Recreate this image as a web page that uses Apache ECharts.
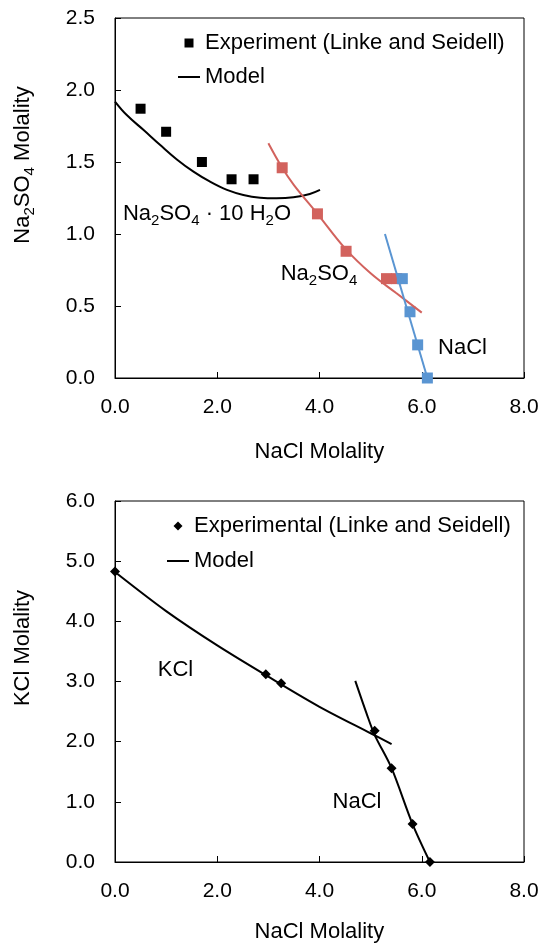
<!DOCTYPE html>
<html>
<head>
<meta charset="utf-8">
<script src="https://cdn.jsdelivr.net/npm/echarts@6/dist/echarts.min.js"></script>
<style>
html,body{margin:0;padding:0;background:#fff;}
#c{width:543px;height:949px;}
</style>
</head>
<body>
<div id="c"></div>
<script>
// ---------- Data (top chart: Na2SO4 vs NaCl) ----------
const xTicks = [0, 2, 4, 6, 8];
const topYTicks = [0, 0.5, 1.0, 1.5, 2.0, 2.5];
const botYTicks = [0, 1, 2, 3, 4, 5, 6];

const hydrateExpX = [0.5, 1.0, 1.70, 2.28, 2.71];
const hydrateExpY = [1.87, 1.71, 1.50, 1.38, 1.38];
const hydrateModelX = [0.0, 0.23, 0.56, 0.885, 1.21, 1.535, 1.86, 2.19, 2.51, 2.84, 3.16, 3.49, 3.81, 4.01];
const hydrateModelY = [1.92, 1.826, 1.722, 1.618, 1.518, 1.433, 1.363, 1.306, 1.271, 1.252, 1.248, 1.255, 1.278, 1.306];

const sulfateExpX = [3.27, 3.96, 4.52, 5.31, 5.51];
const sulfateExpY = [1.46, 1.14, 0.88, 0.69, 0.69];
const sulfateModelX = [3.0, 3.27, 3.5, 3.96, 4.5, 5.0, 5.5, 6.0];
const sulfateModelY = [1.63, 1.46, 1.34, 1.14, 0.90, 0.727, 0.59, 0.454];

const naclTopExpX = [5.62, 5.77, 5.92, 6.11];
const naclTopExpY = [0.69, 0.46, 0.23, 0.0];
const naclTopModelX = [5.28, 6.11];
const naclTopModelY = [1.0, 0.0];

// ---------- Data (bottom chart: KCl vs NaCl) ----------
const kclExpX = [0.0, 2.95, 3.25, 5.08, 5.41, 5.82, 6.16];
const kclExpY = [4.83, 3.12, 2.97, 2.18, 1.56, 0.63, 0.0];
const kclModelX = [0.0, 1.0, 2.0, 3.0, 4.0, 5.0, 5.41];
const kclModelY = [4.82, 4.17, 3.60, 3.08, 2.58, 2.14, 1.96];
const naclBotModelX = [4.70, 4.92, 5.08, 5.41, 5.82, 6.16];
const naclBotModelY = [3.01, 2.47, 2.11, 1.56, 0.63, 0.0];

const zip = (xs, ys) => xs.map((x, i) => [x, ys[i]]);

const FONT = '"Liberation Sans", Arial, sans-serif';
const RED = '#D2625D';
const BLUE = '#5A95D2';

function xAxis(gi) {
  return {
    type: 'value', gridIndex: gi, min: xTicks[0], max: xTicks[xTicks.length - 1], interval: 2,
    axisLine: {show: true, onZero: false, lineStyle: {color: '#000', width: 1}},
    axisTick: {show: true, inside: true, length: 6, lineStyle: {color: '#000'}},
    axisLabel: {formatter: v => v.toFixed(1), color: '#000', fontSize: 21, fontFamily: FONT, margin: 19},
    splitLine: {show: false}
  };
}
function yAxis(gi, ticks) {
  return {
    type: 'value', gridIndex: gi, min: ticks[0], max: ticks[ticks.length - 1], interval: ticks[1] - ticks[0],
    axisLine: {show: true, onZero: false, lineStyle: {color: '#000', width: 1}},
    axisTick: {show: true, inside: true, length: 6, lineStyle: {color: '#000'}},
    axisLabel: {formatter: v => v.toFixed(1), color: '#000', fontSize: 21, fontFamily: FONT, margin: 20},
    splitLine: {show: false}
  };
}

const rich = {
  n: {fontSize: 22, fontFamily: FONT, color: '#000', lineHeight: 28},
  s: {fontSize: 15, fontFamily: FONT, color: '#000', lineHeight: 12, verticalAlign: 'bottom'}
};
function label(x, y, text, rot) {
  return {
    type: 'text', x: x, y: y, rotation: rot || 0, z: 100,
    style: {text: text, rich: rich, align: 'center', verticalAlign: 'middle', font: '22px ' + FONT, fill: '#000'}
  };
}

const squarePath = 'path://M0,0L1,0L1,1L0,1Z';
const diamondPath = 'path://M0.5,0L1,0.5L0.5,1L0,0.5Z';
const linePath = 'path://M0,0L22,0L22,2L0,2Z';

const option = {
  animation: false,
  backgroundColor: '#fff',
  grid: [
    {left: 115, right: 19, top: 18, height: 360, show: true, borderColor: '#000', borderWidth: 1, containLabel: false},
    {left: 115, right: 19, top: 501, height: 361, show: true, borderColor: '#000', borderWidth: 1, containLabel: false}
  ],
  xAxis: [xAxis(0), xAxis(1)],
  yAxis: [yAxis(0, topYTicks), yAxis(1, botYTicks)],
  legend: [
    {
      left: 173, top: 26, padding: 5, orient: 'vertical', itemWidth: 22, itemHeight: 9, itemGap: 10,
      selectedMode: false,
      textStyle: {fontSize: 22, fontFamily: FONT, color: '#000', lineHeight: 24},
      data: [{name: 'Experiment (Linke and Seidell)', icon: squarePath},
             {name: 'Model', icon: linePath, itemStyle: {color: '#000'}}]
    },
    {
      left: 162, top: 509, padding: 5, orient: 'vertical', itemWidth: 22, itemHeight: 9, itemGap: 11,
      selectedMode: false,
      textStyle: {fontSize: 22, fontFamily: FONT, color: '#000', lineHeight: 24},
      data: [{name: 'Experimental (Linke and Seidell)', icon: diamondPath},
             {name: 'Model ', icon: linePath, itemStyle: {color: '#000'}}]
    }
  ],
  series: [
    {name: 'Model', type: 'line', xAxisIndex: 0, yAxisIndex: 0, smooth: 0.4, symbol: 'none', clip: false,
     lineStyle: {color: '#000', width: 2}, itemStyle: {color: '#000'}, data: zip(hydrateModelX, hydrateModelY)},
    {name: 'Experiment (Linke and Seidell)', type: 'scatter', xAxisIndex: 0, yAxisIndex: 0, symbol: 'rect', symbolSize: 10, clip: false,
     itemStyle: {color: '#000', opacity: 1}, data: zip(hydrateExpX, hydrateExpY)},
    {name: 'Na2SO4 model', type: 'line', xAxisIndex: 0, yAxisIndex: 0, smooth: 0.4, symbol: 'none', clip: false,
     lineStyle: {color: RED, width: 2}, itemStyle: {color: RED}, data: zip(sulfateModelX, sulfateModelY)},
    {name: 'Na2SO4 exp', type: 'scatter', xAxisIndex: 0, yAxisIndex: 0, symbol: 'rect', symbolSize: 11, clip: false,
     itemStyle: {color: RED, opacity: 1}, data: zip(sulfateExpX, sulfateExpY)},
    {name: 'NaCl model', type: 'line', xAxisIndex: 0, yAxisIndex: 0, symbol: 'none', clip: false,
     lineStyle: {color: BLUE, width: 2}, itemStyle: {color: BLUE}, data: zip(naclTopModelX, naclTopModelY)},
    {name: 'NaCl exp', type: 'scatter', xAxisIndex: 0, yAxisIndex: 0, symbol: 'rect', symbolSize: 11, clip: false,
     itemStyle: {color: BLUE, opacity: 1}, data: zip(naclTopExpX, naclTopExpY)},

    {name: 'Model ', type: 'line', xAxisIndex: 1, yAxisIndex: 1, smooth: 0.3, symbol: 'none', clip: false,
     lineStyle: {color: '#000', width: 2}, itemStyle: {color: '#000'}, data: zip(kclModelX, kclModelY)},
    {name: 'NaCl model b', type: 'line', xAxisIndex: 1, yAxisIndex: 1, smooth: 0.3, symbol: 'none', clip: false,
     lineStyle: {color: '#000', width: 2}, itemStyle: {color: '#000'}, data: zip(naclBotModelX, naclBotModelY)},
    {name: 'Experimental (Linke and Seidell)', type: 'scatter', xAxisIndex: 1, yAxisIndex: 1, symbol: 'diamond', symbolSize: 10, clip: false,
     itemStyle: {color: '#000', opacity: 1}, data: zip(kclExpX, kclExpY)}
  ],
  graphic: [
    label(319.4, 452, '{n|NaCl Molality}'),
    label(319.4, 932, '{n|NaCl Molality}'),
    label(23, 165, '{n|Na}{s|2}{n|SO}{s|4}{n| Molality}', Math.PI / 2),
    label(23, 648, '{n|KCl Molality}', Math.PI / 2),
    label(207, 214, '{n|Na}{s|2}{n|SO}{s|4}{n| · 10 H}{s|2}{n|O}'),
    label(319, 274, '{n|Na}{s|2}{n|SO}{s|4}'),
    label(462.5, 348, '{n|NaCl}'),
    label(175.5, 670, '{n|KCl}'),
    label(357, 802, '{n|NaCl}')
  ]
};

const chart = echarts.init(document.getElementById('c'), null, {renderer: 'canvas'});
chart.setOption(option);
</script>
</body>
</html>
